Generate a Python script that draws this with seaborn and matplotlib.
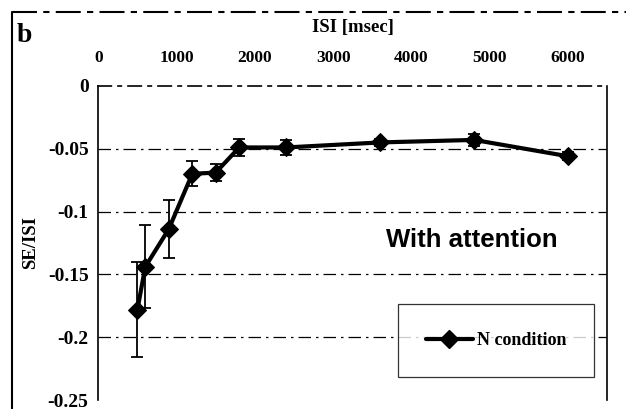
import matplotlib
matplotlib.use("Agg")
import matplotlib.pyplot as plt
import seaborn as sns
import pandas as pd
from matplotlib.lines import Line2D

isi = [500, 600, 900, 1200, 1500, 1800, 2400, 3600, 4800, 6000]
se_isi = [-0.178, -0.144, -0.114, -0.070, -0.069, -0.049, -0.049, -0.045, -0.043, -0.056]
err = [0.038, 0.033, 0.023, 0.010, 0.007, 0.007, 0.006, 0.003, 0.005, 0.003]
x_ticks = [0, 1000, 2000, 3000, 4000, 5000, 6000]
y_ticks = [0, -0.05, -0.1, -0.15, -0.2, -0.25]
y_tick_labels = ["0", "-0.05", "-0.1", "-0.15", "-0.2", "-0.25"]
series_name = "N condition"

df = pd.DataFrame({"ISI": isi, "SE/ISI": se_isi, "cond": series_name})

sns.set_theme(style="white")
plt.rcParams['font.family'] = ['Liberation Serif', 'DejaVu Serif']
plt.rcParams['text.color'] = 'black'
plt.rcParams['xtick.color'] = 'black'
plt.rcParams['ytick.color'] = 'black'
plt.rcParams['axes.labelcolor'] = 'black'

fig = plt.figure(figsize=(6.26, 4.09), dpi=100)
ax = fig.add_axes([0.157, 0.022, 0.813, 0.768])

# grid lines
for yv in y_ticks[1:-1]:
    ax.axhline(yv, color="black", lw=0.9, ls=(0, (10, 4, 2, 4)), zorder=1)

ax.errorbar(isi, se_isi, yerr=err, fmt="none", ecolor="black", elinewidth=1.3,
            capsize=4, capthick=1.3, zorder=2)
sns.lineplot(data=df, x="ISI", y="SE/ISI", hue="cond", palette=["black"],
             marker="D", markersize=9, linewidth=3, ax=ax, zorder=3,
             markeredgecolor="black", legend=False)

ax.set_xlim(0, 6500)
ax.set_ylim(-0.25, 0)
ax.xaxis.tick_top()
ax.xaxis.set_label_position("top")
ax.set_xticks(x_ticks)
ax.set_xticklabels([str(v) for v in x_ticks], fontweight="bold", fontsize=12.5)
ax.set_yticks(y_ticks)
ax.set_yticklabels(y_tick_labels, fontweight="bold", fontsize=14)
ax.tick_params(axis="x", length=0, pad=14)
ax.tick_params(axis="y", length=0, pad=7)
ax.set_xlabel("ISI [msec]", fontweight="bold", fontsize=13.5, labelpad=13)
ax.set_ylabel("SE/ISI", fontweight="bold", fontsize=13.5, labelpad=6)

for s in ["left", "right", "top"]:
    ax.spines[s].set_color("black")
    ax.spines[s].set_linewidth(1.2)
ax.spines["bottom"].set_visible(False)
ax.spines["top"].set_linestyle((0, (8, 4, 2, 4)))

ax.text(4770, -0.1226, "With attention", fontsize=18.5, fontweight="bold",
        family=["Liberation Sans", "DejaVu Sans"], ha="center", va="center",
        color="black")

# legend
h = [Line2D([0], [0], color="black", lw=3, marker="D", markersize=9)]
leg = ax.legend(h, [series_name], loc="lower right", bbox_to_anchor=(0.974, 0.072),
                frameon=True, fancybox=False, prop={"weight": "bold", "size": 13},
                borderpad=1.55, handlelength=2.6, handletextpad=0.2,
                borderaxespad=0)
leg.get_frame().set_edgecolor("black")
leg.get_frame().set_linewidth(0.9)

fig.text(0.026, 0.914, "b", fontsize=20, fontweight="bold", ha="left", va="center")

# outer scan frame (left and top edges)
fig.add_artist(Line2D([0.019, 0.019], [0.0, 0.97], transform=fig.transFigure,
                      color="black", lw=1.5))
fig.add_artist(Line2D([0.019, 1.0], [0.97, 0.97], transform=fig.transFigure,
                      color="black", lw=1.5, ls=(0, (12, 3, 3, 3))))

fig.savefig("out.png", dpi=100)
